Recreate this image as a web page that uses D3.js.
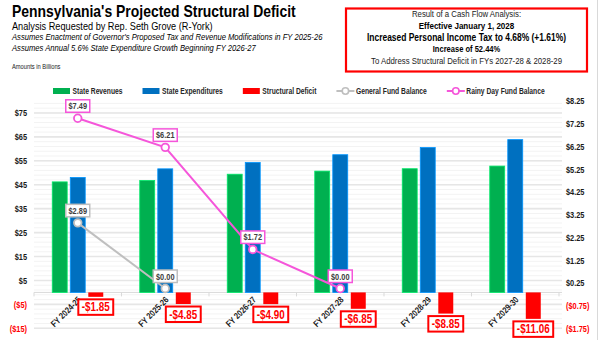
<!DOCTYPE html>
<html>
<head>
<meta charset="utf-8">
<script src="https://cdn.jsdelivr.net/npm/d3@7"></script>
<style>
  body { margin: 0; background: #fff; }
  svg { display: block; font-family: "Liberation Sans", Arial, sans-serif; }
</style>
</head>
<body>
<svg id="chart" width="600" height="340"></svg>
<script>
// fiscal years and amounts (billions)
var categories = ["FY 2024-25", "FY 2025-26", "FY 2026-27", "FY 2027-28", "FY 2028-29", "FY 2029-30"];
var revenues = [46.2, 46.8, 49.4, 50.7, 51.7, 52.8];
var expenditures = [48.05, 51.65, 54.3, 57.55, 60.55, 63.86];
var deficits = [-1.85, -4.85, -4.90, -6.85, -8.85, -11.06];
var generalFund = [2.89, 0.00];
var rainyDay = [7.49, 6.21, 1.72, 0.00];

var leftTicks = [-15, -5, 5, 15, 25, 35, 45, 55, 65, 75];
var rightTicks = [-1.75, -0.75, 0.25, 1.25, 2.25, 3.25, 4.25, 5.25, 6.25, 7.25, 8.25];

var boxLines = [
  {text: "Result of a Cash Flow Analysis:", bold: false, size: 9.5},
  {text: "Effective January 1, 2028", bold: true, size: 9.8},
  {text: "Increased Personal Income Tax to 4.68% (+1.61%)", bold: true, size: 10.3},
  {text: "Increase of 52.44%", bold: true, size: 9.2},
  {text: "To Address Structural Deficit in FYs 2027-28 & 2028-29", bold: false, size: 9.5}
];

var colors = {rev: "#00b050", exp: "#0070c0", def: "#ff0000", gf: "#bfbfbf", rd: "#f556da"};

var svg = d3.select("#chart");

// narrow-font look: squeeze every label horizontally
var SQUEEZE = 0.82;
function narrow(sel) {
  sel.each(function() {
    var w = this.getComputedTextLength();
    d3.select(this)
      .attr("textLength", w * SQUEEZE)
      .attr("lengthAdjust", "spacingAndGlyphs");
  });
  return sel;
}

var plot = {left: 34, right: 559, top: 101, bottom: 328.3};

var x0 = d3.scaleBand()
  .domain(categories)
  .range([plot.left, plot.right])
  .paddingInner(0.417)
  .paddingOuter(0.2085);

var x1 = d3.scaleBand()
  .domain(["rev", "exp", "def"])
  .range([0, x0.bandwidth()])
  .paddingInner(0.17);

var yL = d3.scaleLinear().domain([-15, 80]).range([plot.bottom, plot.top]);
var yR = d3.scaleLinear().domain([-1.75, 8.25]).range([plot.bottom, plot.top]);

function mid(c) { return x0(c) + x0.bandwidth() / 2; }

// outer frame edge
svg.append("line")
  .attr("x1", 597.5).attr("x2", 597.5)
  .attr("y1", 0).attr("y2", 340)
  .attr("stroke", "#d9d9d9");

// titles
var head = svg.append("g").attr("fill", "#000");
narrow(head.append("text").attr("x", 12).attr("y", 16.8)
  .attr("font-size", 17).attr("font-weight", "bold")
  .text("Pennsylvania's Projected Structural Deficit"));
narrow(head.append("text").attr("x", 12).attr("y", 29.5)
  .attr("font-size", 11.2)
  .text("Analysis Requested by Rep. Seth Grove (R-York)"));
narrow(head.append("text").attr("x", 12).attr("y", 39.8)
  .attr("font-size", 9.3).attr("font-style", "italic")
  .text("Assumes Enactment of Governor's Proposed Tax and Revenue Modifications in FY 2025-26"));
narrow(head.append("text").attr("x", 12).attr("y", 50.5)
  .attr("font-size", 9.3).attr("font-style", "italic")
  .text("Assumes Annual 5.6% State Expenditure Growth Beginning FY 2026-27"));
narrow(head.append("text").attr("x", 12).attr("y", 69)
  .attr("font-size", 7).attr("fill", "#222")
  .text("Amounts in Billions"));

// result box
svg.append("rect")
  .attr("x", 346).attr("y", 8.5)
  .attr("width", 241).attr("height", 63)
  .attr("fill", "#fff")
  .attr("stroke", "#ff0000")
  .attr("stroke-width", 2.2);

var by = [16.7, 28.5, 40.7, 52.3, 63.5];
narrow(svg.selectAll(".boxline")
  .data(boxLines)
  .enter()
  .append("text")
  .attr("class", "boxline")
  .attr("x", 466.5)
  .attr("y", function(d, i) { return by[i]; })
  .attr("text-anchor", "middle")
  .attr("font-size", function(d) { return d.size; })
  .attr("font-weight", function(d) { return d.bold ? "bold" : "normal"; })
  .attr("fill", function(d) { return d.bold ? "#000" : "#222"; })
  .text(function(d) { return d.text; }));

// gridlines: minor every 2, major at the labelled ticks
var grid = svg.append("g");
grid.selectAll(".minor")
  .data(d3.range(-15, 80, 2))
  .enter()
  .append("line")
  .attr("x1", plot.left).attr("x2", plot.right + 3)
  .attr("y1", function(d) { return yL(d); })
  .attr("y2", function(d) { return yL(d); })
  .attr("stroke", "#f3f3f3")
  .attr("stroke-width", 1);
grid.selectAll(".major")
  .data(leftTicks)
  .enter()
  .append("line")
  .attr("x1", plot.left).attr("x2", plot.right + 3)
  .attr("y1", function(d) { return yL(d); })
  .attr("y2", function(d) { return yL(d); })
  .attr("stroke", "#e6e6e6")
  .attr("stroke-width", 1.6);

// axes
function money(d, dec) {
  var s = "$" + d3.format("." + dec + "f")(Math.abs(d));
  return d < 0 ? "(" + s + ")" : s;
}

var axL = svg.append("g")
  .attr("transform", "translate(27,0)")
  .call(d3.axisLeft(yL).tickValues(leftTicks).tickSize(0).tickPadding(0)
        .tickFormat(function(d) { return money(d, 0); }));
var axR = svg.append("g")
  .attr("transform", "translate(566,0)")
  .call(d3.axisRight(yR).tickValues(rightTicks).tickSize(0).tickPadding(0)
        .tickFormat(function(d) { return money(d, 2); }));
[axL, axR].forEach(function(ax) {
  ax.select(".domain").remove();
  narrow(ax.selectAll("text")
    .attr("font-family", null)
    .attr("font-size", 9)
    .attr("font-weight", "bold")
    .attr("fill", function(d) { return d < 0 ? "#ff0000" : "#1a1a1a"; }));
});

// category axis at zero
var zeroY = yL(0);
svg.append("line")
  .attr("x1", plot.left).attr("x2", plot.right + 3)
  .attr("y1", zeroY).attr("y2", zeroY)
  .attr("stroke", "#d9d9d9")
  .attr("stroke-width", 1);
svg.selectAll(".xtick")
  .data(d3.range(categories.length + 1))
  .enter()
  .append("line")
  .attr("x1", function(i) { return plot.left + i * x0.step(); })
  .attr("x2", function(i) { return plot.left + i * x0.step(); })
  .attr("y1", zeroY).attr("y2", zeroY + 4)
  .attr("stroke", "#d9d9d9");

narrow(svg.selectAll(".xlabel")
  .data(categories)
  .enter()
  .append("text")
  .attr("class", "xlabel")
  .attr("transform", function(c) { return "translate(" + (mid(c) + 4) + "," + (zeroY + 8) + ") rotate(-45)"; })
  .attr("text-anchor", "end")
  .attr("font-size", 9)
  .attr("font-weight", "bold")
  .attr("fill", "#1a1a1a")
  .text(function(c) { return c; }));

// bars
var rows = categories.map(function(c, i) {
  return {cat: c, rev: revenues[i], exp: expenditures[i], def: deficits[i]};
});

var groups = svg.selectAll(".grp")
  .data(rows)
  .enter()
  .append("g")
  .attr("transform", function(d) { return "translate(" + x0(d.cat) + ",0)"; });

groups.selectAll("rect")
  .data(function(d) { return ["rev", "exp", "def"].map(function(k) { return {key: k, value: d[k]}; }); })
  .enter()
  .append("rect")
  .attr("x", function(d) { return x1(d.key); })
  .attr("width", x1.bandwidth())
  .attr("y", function(d) { return Math.min(yL(d.value), yL(0)); })
  .attr("height", function(d) { return Math.abs(yL(d.value) - yL(0)); })
  .attr("fill", function(d) { return colors[d.key]; })
  .attr("stroke", function(d) { return d.key === "def" ? "none" : d3.color(colors[d.key]).brighter(0.8); })
  .attr("stroke-width", 0.8);

// balance lines on the right axis
var line = d3.line()
  .x(function(d) { return mid(categories[d.i]); })
  .y(function(d) { return yR(d.v); });

function balanceSeries(values, color) {
  var pts = values.map(function(v, i) { return {i: i, v: v}; });
  svg.append("path")
    .datum(pts)
    .attr("d", line)
    .attr("fill", "none")
    .attr("stroke", color)
    .attr("stroke-width", 2);
  svg.selectAll(null)
    .data(pts)
    .enter()
    .append("circle")
    .attr("cx", function(d) { return mid(categories[d.i]); })
    .attr("cy", function(d) { return yR(d.v); })
    .attr("r", 3.8)
    .attr("fill", "#fff")
    .attr("stroke", color)
    .attr("stroke-width", 1.8);
  var lab = svg.selectAll(null)
    .data(pts)
    .enter()
    .append("g")
    .attr("transform", function(d) { return "translate(" + mid(categories[d.i]) + "," + (yR(d.v) - 6) + ")"; });
  lab.append("rect")
    .attr("x", -12).attr("y", -12.5)
    .attr("width", 24).attr("height", 12.5)
    .attr("fill", "#fff")
    .attr("stroke", color)
    .attr("stroke-width", 1.5);
  narrow(lab.append("text")
    .attr("y", -3)
    .attr("text-anchor", "middle")
    .attr("font-size", 9)
    .attr("font-weight", "bold")
    .attr("fill", "#404040")
    .text(function(d) { return "$" + d.v.toFixed(2); }));
}

balanceSeries(generalFund, colors.gf);
balanceSeries(rainyDay, colors.rd);

// deficit value labels under the red bars
var defLab = svg.selectAll(".deflab")
  .data(rows)
  .enter()
  .append("g")
  .attr("transform", function(d) { return "translate(" + (x0(d.cat) + x1("def") + x1.bandwidth() / 2) + "," + (yL(d.def) + 2.5) + ")"; });
narrow(defLab.append("text")
  .attr("y", 12)
  .attr("text-anchor", "middle")
  .attr("font-size", 12)
  .attr("font-weight", "bold")
  .attr("fill", "#ff0000")
  .text(function(d) { return "-$" + Math.abs(d.def).toFixed(2); }));
defLab.each(function() {
  var g = d3.select(this);
  var w = +g.select("text").attr("textLength") + 7;
  g.insert("rect", "text")
    .attr("x", -w / 2).attr("y", 0)
    .attr("width", w).attr("height", 15.5)
    .attr("fill", "#fff")
    .attr("stroke", "#ff0000")
    .attr("stroke-width", 2);
});

// legend
var legendItems = [
  {name: "State Revenues", color: colors.rev, type: "bar"},
  {name: "State Expenditures", color: colors.exp, type: "bar"},
  {name: "Structural Deficit", color: colors.def, type: "bar"},
  {name: "General Fund Balance", color: colors.gf, type: "line"},
  {name: "Rainy Day Fund Balance", color: colors.rd, type: "line"}
];
var lx = 53, ly = 91;
legendItems.forEach(function(it) {
  var g = svg.append("g").attr("transform", "translate(" + lx + "," + ly + ")");
  if (it.type === "bar") {
    g.append("rect").attr("x", 0).attr("y", -3).attr("width", 17).attr("height", 6).attr("fill", it.color);
  } else {
    g.append("line").attr("x1", 0).attr("x2", 18).attr("stroke", it.color).attr("stroke-width", 2);
    g.append("circle").attr("cx", 9).attr("r", 3.2).attr("fill", "#fff").attr("stroke", it.color).attr("stroke-width", 1.6);
  }
  var t = narrow(g.append("text")
    .attr("x", 19.5).attr("y", 3)
    .attr("font-size", 8.2)
    .attr("font-weight", "bold")
    .attr("fill", "#262626")
    .text(it.name));
  lx += 19.5 + +t.attr("textLength") + 20;
});
</script>
</body>
</html>
